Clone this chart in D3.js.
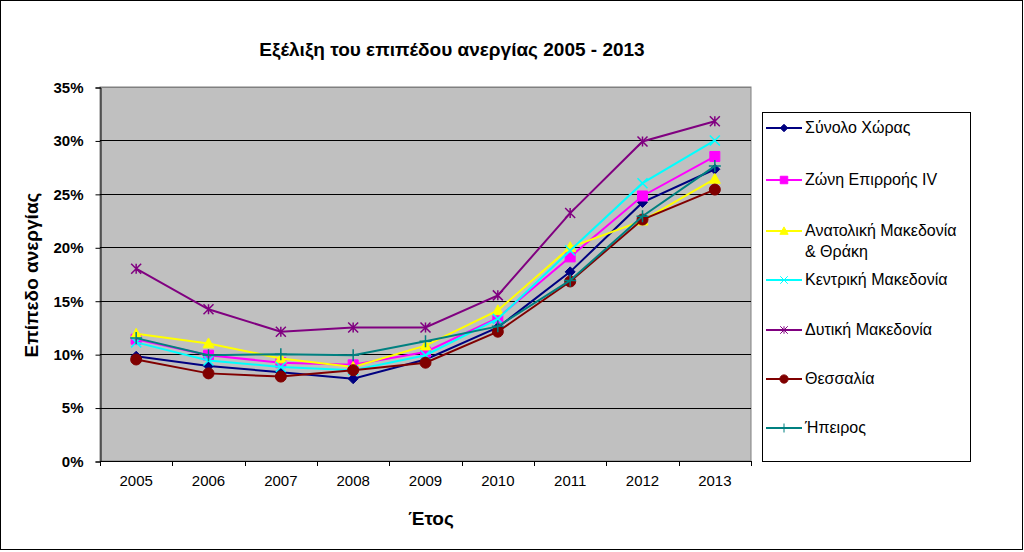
<!DOCTYPE html>
<html><head><meta charset="utf-8">
<script src="https://cdn.jsdelivr.net/npm/d3@7"></script>
<style>
html,body{margin:0;padding:0;background:#fff;}
svg{display:block;}
</style></head>
<body>
<svg id="chart" width="1024" height="552"></svg>
<script>
const years = ["2005","2006","2007","2008","2009","2010","2011","2012","2013"];
const seriesNames = ["Σύνολο Χώρας","Ζώνη Επιρροής IV","Ανατολική Μακεδονία & Θράκη","Κεντρική Μακεδονία","Δυτική Μακεδονία","Θεσσαλία","Ήπειρος"];
const synoloXoras   = [9.8, 8.9, 8.3, 7.7, 9.5, 12.5, 17.7, 24.2, 27.3];
const zoniEpirrois  = [11.4, 9.9, 9.2, 9.0, 10.2, 13.4, 19.1, 24.8, 28.5];
const anatMakedonia = [11.9, 11.0, 9.6, 8.8, 10.8, 14.1, 20.0, 22.5, 26.4];
const kentrMakedonia= [11.1, 9.4, 8.8, 8.5, 9.9, 13.3, 19.7, 26.0, 30.0];
const dytMakedonia  = [18.0, 14.2, 12.1, 12.5, 12.5, 15.5, 23.2, 29.9, 31.8];
const thessalia     = [9.5, 8.2, 7.9, 8.5, 9.2, 12.1, 16.8, 22.6, 25.4];
const ipeiros       = [11.5, 9.9, 10.0, 9.9, 11.2, 12.6, 16.9, 22.9, 27.6];
const yTicks = [0,5,10,15,20,25,30,35];
const colors = ["#000080","#FF00FF","#FFFF00","#00FFFF","#800080","#800000","#008080"];
const markers = ["diamond","square","triangle","x","star","circle","plus"];
const allValues = [synoloXoras, zoniEpirrois, anatMakedonia, kentrMakedonia, dytMakedonia, thessalia, ipeiros];

const svg = d3.select("#chart");
svg.append("rect").attr("x",0.5).attr("y",0.5).attr("width",1022).attr("height",549)
  .attr("fill","#fff").attr("stroke","#000").attr("stroke-width",1);

const L=100, R=751, T=87, B=461;
const x = d3.scaleBand().domain(years).range([L,R]);
const y = d3.scaleLinear().domain([0,35]).range([B,T]);
const cx = d => x(d)+x.bandwidth()/2;

svg.append("rect").attr("x",L).attr("y",T).attr("width",R-L).attr("height",B-T)
  .attr("fill","#c0c0c0").attr("stroke","#808080").attr("stroke-width",1);

svg.append("g").selectAll("line").data(yTicks.filter(t=>t>0)).join("line")
  .attr("x1",L).attr("x2",R).attr("y1",d=>Math.round(y(d))+0.5).attr("y2",d=>Math.round(y(d))+0.5)
  .attr("stroke", d=> d===35 ? "#808080" : "#000").attr("stroke-width",1);

const yAxis = d3.axisLeft(y).tickValues(yTicks).tickFormat(d=>d+"%").tickSize(5).tickPadding(12);
const gy = svg.append("g").attr("transform",`translate(${L+0.5},0.5)`).call(yAxis);
gy.selectAll("text").attr("font-family","'Liberation Sans Narrow','Liberation Sans',Arial,sans-serif")
  .attr("font-size",15).attr("font-weight","bold").attr("fill","#000");
gy.select(".domain").attr("stroke","#000");
gy.selectAll(".tick line").attr("stroke","#000");

const xAxis = d3.axisBottom(x).tickSize(0).tickPadding(14);
const gx = svg.append("g").attr("transform",`translate(0,${B+0.5})`).call(xAxis);
gx.select(".domain").attr("stroke","#000").attr("d",`M${L},0H${R}`);
gx.selectAll("text").attr("font-family","'Liberation Sans Narrow','Liberation Sans',Arial,sans-serif")
  .attr("font-size",15).attr("fill","#000");
svg.append("g").selectAll("line").data(years.concat(["end"])).join("line")
  .attr("x1",(d,i)=> Math.round(i<years.length ? x(d) : R)+0.5)
  .attr("x2",(d,i)=> Math.round(i<years.length ? x(d) : R)+0.5)
  .attr("y1",B).attr("y2",B+5).attr("stroke","#000");

function markerPath(type, s){
  const h=s/2;
  switch(type){
    case "diamond": return `M0,${-h}L${h},0L0,${h}L${-h},0Z`;
    case "square": return `M${-h},${-h}H${h}V${h}H${-h}Z`;
    case "triangle": return `M0,${-h}L${h},${h*0.8}L${-h},${h*0.8}Z`;
    case "circle": return d3.symbol(d3.symbolCircle, Math.PI*h*h)();
    case "x": return `M${-h},${-h}L${h},${h}M${-h},${h}L${h},${-h}`;
    case "star": return `M${-h},${-h}L${h},${h}M${-h},${h}L${h},${-h}M0,${-h}V${h}`;
    case "plus": return `M${-h},0H${h}M0,${-h}V${h}`;
  }
}
const filled = {diamond:true,square:true,triangle:true,circle:true,x:false,star:false,plus:false};
const mSize = {diamond:10,square:10,triangle:11,circle:11,x:10,star:10,plus:12};

const line = d3.line().x((d,i)=>cx(years[i])).y(d=>y(d));
[0,1,2,3,4,5,6].forEach(si=>{
  const vals = allValues[si];
  const g = svg.append("g");
  g.append("path").datum(vals).attr("d",line).attr("fill","none")
    .attr("stroke",colors[si]).attr("stroke-width",2);
  g.selectAll("path.m").data(vals).join("path").attr("class","m")
    .attr("transform",(d,i)=>`translate(${cx(years[i])},${y(d)})`)
    .attr("d",markerPath(markers[si], mSize[markers[si]]))
    .attr("fill", filled[markers[si]] ? colors[si] : "none")
    .attr("stroke",colors[si]).attr("stroke-width", filled[markers[si]] ? 1 : 1.5);
});

const lg = svg.append("g");
lg.append("rect").attr("x",762.5).attr("y",112.5).attr("width",208).attr("height",349)
  .attr("fill","#fff").attr("stroke","#000").attr("stroke-width",1);
const legY = [128,180,231,280,330,379,428];
seriesNames.forEach((name,si)=>{
  const ly = legY[si];
  lg.append("line").attr("x1",766).attr("x2",802).attr("y1",ly).attr("y2",ly)
    .attr("stroke",colors[si]).attr("stroke-width",2);
  const mk = markers[si];
  lg.append("path").attr("transform",`translate(784,${ly})`)
    .attr("d",markerPath(mk, mSize[mk]*0.75))
    .attr("fill", filled[mk]?colors[si]:"none").attr("stroke",colors[si]).attr("stroke-width",1);
  const t = lg.append("text").attr("x",805).attr("y",ly+5)
    .attr("font-family","'Liberation Sans',Arial,sans-serif").attr("font-size",16).attr("fill","#000");
  if (name.includes("&")) {
    const parts = ["Ανατολική Μακεδονία","& Θράκη"];
    t.append("tspan").attr("x",805).text(parts[0]);
    t.append("tspan").attr("x",805).attr("dy",21).text(parts[1]);
  } else t.text(name);
});

svg.append("text").attr("x",452).attr("y",56).attr("text-anchor","middle")
  .attr("font-family","'Liberation Sans Narrow','Liberation Sans',Arial,sans-serif")
  .attr("font-size",19).attr("font-weight","bold").text("Εξέλιξη του επιπέδου ανεργίας 2005 - 2013");
svg.append("text").attr("x",431).attr("y",525).attr("text-anchor","middle")
  .attr("font-family","'Liberation Sans Narrow','Liberation Sans',Arial,sans-serif")
  .attr("font-size",19).attr("font-weight","bold").text("Έτος");
svg.append("text").attr("transform","translate(38,275) rotate(-90)").attr("text-anchor","middle")
  .attr("font-family","'Liberation Sans Narrow','Liberation Sans',Arial,sans-serif")
  .attr("font-size",19).attr("font-weight","bold").text("Επίπεδο ανεργίας");
</script>
</body></html>
